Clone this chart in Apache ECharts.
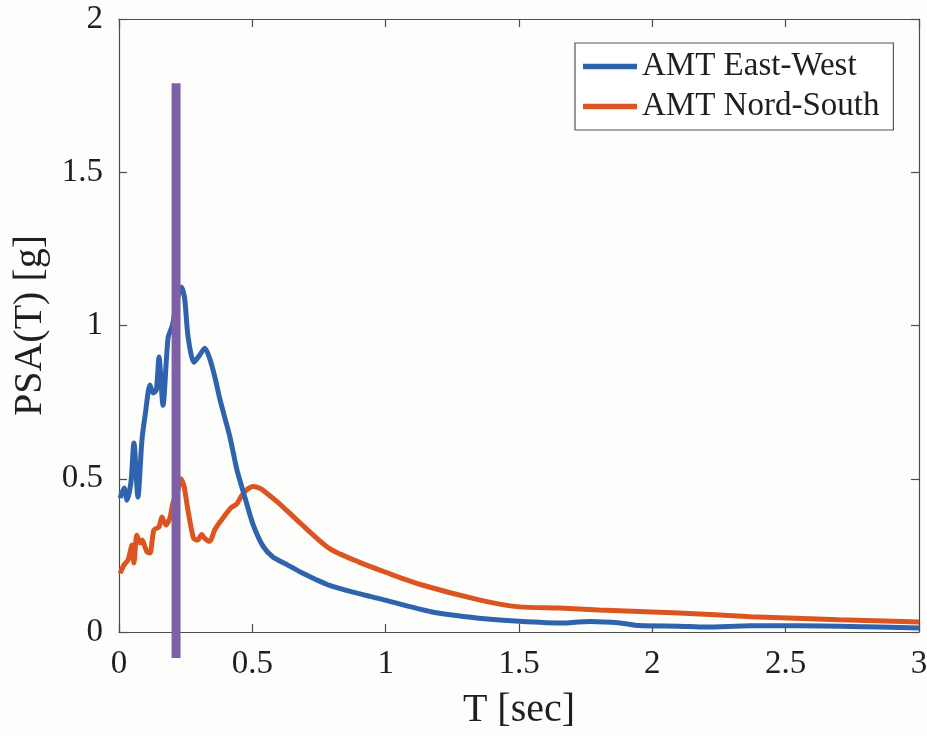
<!DOCTYPE html>
<html>
<head>
<meta charset="utf-8">
<script src="https://cdn.jsdelivr.net/npm/echarts@6/dist/echarts.min.js"></script>
<style>
html,body{margin:0;padding:0;background:#fdfdfb;}
#chart{width:927px;height:736px;}
</style>
</head>
<body>
<div id="chart"></div>
<script>
// Data
const periodsEW = [0.004,0.019,0.03,0.045,0.056,0.071,0.086,0.1,0.116,0.128,0.14,0.15,0.165,0.184,0.2,0.215,0.234,0.246,0.259,0.281,0.3,0.322,0.341,0.36,0.379,0.416,0.442,0.472,0.503,0.54,0.577,0.63,0.68,0.79,0.9,0.98,1.17,1.35,1.5,1.67,1.72,1.77,1.88,1.95,2.1,2.2,2.37,2.55,2.8,3.0];
const psaEW =     [0.437,0.47,0.43,0.49,0.617,0.44,0.626,0.72,0.806,0.78,0.79,0.897,0.74,0.96,1.0,1.07,1.126,1.09,0.963,0.88,0.9,0.926,0.89,0.83,0.757,0.636,0.53,0.44,0.35,0.28,0.245,0.22,0.196,0.152,0.125,0.108,0.066,0.045,0.035,0.029,0.033,0.034,0.029,0.021,0.019,0.016,0.02,0.02,0.017,0.013];

const periodsNS = [0.004,0.019,0.034,0.049,0.056,0.067,0.079,0.086,0.105,0.116,0.131,0.15,0.161,0.176,0.191,0.202,0.22,0.232,0.244,0.26,0.28,0.295,0.31,0.322,0.34,0.36,0.39,0.42,0.442,0.46,0.48,0.503,0.53,0.555,0.6,0.68,0.79,0.9,1.0,1.13,1.35,1.5,1.65,1.8,2.1,2.37,2.7,3.0];
const psaNS =     [0.192,0.219,0.235,0.284,0.225,0.316,0.29,0.30,0.261,0.258,0.333,0.343,0.375,0.349,0.372,0.42,0.46,0.50,0.475,0.39,0.305,0.30,0.318,0.305,0.296,0.335,0.372,0.405,0.418,0.445,0.465,0.475,0.468,0.452,0.42,0.355,0.272,0.228,0.195,0.155,0.105,0.082,0.078,0.072,0.062,0.05,0.04,0.033];

const markerPeriod = 0.214;
const markerRange = [-0.085, 1.79];

const seriesNames = ['AMT East-West', 'AMT Nord-South'];
const xTicks = [0, 0.5, 1, 1.5, 2, 2.5, 3];
const yTicks = [0, 0.5, 1, 1.5, 2];

const zip = (a, b) => a.map((v, i) => [v, b[i]]);

const font = "'Liberation Serif', 'Times New Roman', serif";
const axisColor = '#4d4d4d';
const textColor = '#1f1f1f';

const chart = echarts.init(document.getElementById('chart'), null, {renderer: 'canvas'});
const baseX = {
  type: 'value', min: xTicks[0], max: xTicks[xTicks.length - 1], interval: 0.5,
  axisLine: {show: true, onZero: false, lineStyle: {color: axisColor, width: 1.2}},
  axisTick: {show: true, inside: true, length: 8, lineStyle: {color: axisColor, width: 1.2}},
  splitLine: {show: false}
};
const baseY = {
  type: 'value', min: yTicks[0], max: yTicks[yTicks.length - 1], interval: 0.5,
  axisLine: {show: true, onZero: false, lineStyle: {color: axisColor, width: 1.2}},
  axisTick: {show: true, inside: true, length: 8, lineStyle: {color: axisColor, width: 1.2}},
  splitLine: {show: false}
};

chart.setOption({
  backgroundColor: '#fdfdfb',
  animation: false,
  grid: {left: 119, right: 8, top: 19, bottom: 104, containLabel: false, outerBoundsMode: 'none'},
  xAxis: [
    Object.assign({}, baseX, {
      position: 'bottom',
      name: 'T [sec]', nameLocation: 'middle', nameGap: 58,
      nameTextStyle: {fontFamily: font, fontSize: 40, color: textColor},
      axisLabel: {show: true, margin: 16, fontFamily: font, fontSize: 33, color: textColor}
    }),
    Object.assign({}, baseX, {position: 'top', axisLabel: {show: false}})
  ],
  yAxis: [
    Object.assign({}, baseY, {
      position: 'left',
      name: 'PSA(T) [g]', nameLocation: 'middle', nameGap: 66,
      nameTextStyle: {fontFamily: font, fontSize: 40, color: textColor},
      axisLabel: {show: true, margin: 16, fontFamily: font, fontSize: 33, color: textColor}
    }),
    Object.assign({}, baseY, {position: 'right', axisLabel: {show: false}})
  ],
  legend: {
    data: seriesNames,
    orient: 'vertical',
    left: 575, top: 43,
    padding: [7, 14, 7, 8],
    itemWidth: 54, itemHeight: 14, itemGap: 7,
    backgroundColor: '#ffffff',
    borderColor: '#555555', borderWidth: 1.2, borderRadius: 0,
    textStyle: {fontFamily: font, fontSize: 33, color: textColor, lineHeight: 32},
    icon: 'path://M0,0 L10,0 L10,1 L0,1 Z'
  },
  series: [
    {
      name: seriesNames[0], type: 'line', data: zip(periodsEW, psaEW),
      symbol: 'none', smooth: 0.25, z: 3,
      lineStyle: {color: '#2f63ad', width: 5},
      itemStyle: {color: '#2f63ad'}
    },
    {
      name: seriesNames[1], type: 'line', data: zip(periodsNS, psaNS),
      symbol: 'none', smooth: 0.25, z: 2,
      lineStyle: {color: '#dc5520', width: 5},
      itemStyle: {color: '#dc5520'}
    },
    {
      name: 'marker', type: 'line', clip: false,
      data: [[markerPeriod, markerRange[0]], [markerPeriod, markerRange[1]]],
      symbol: 'none', z: 5,
      lineStyle: {color: '#7e60a7', width: 9, cap: 'butt'}
    }
  ]
});
</script>
</body>
</html>
